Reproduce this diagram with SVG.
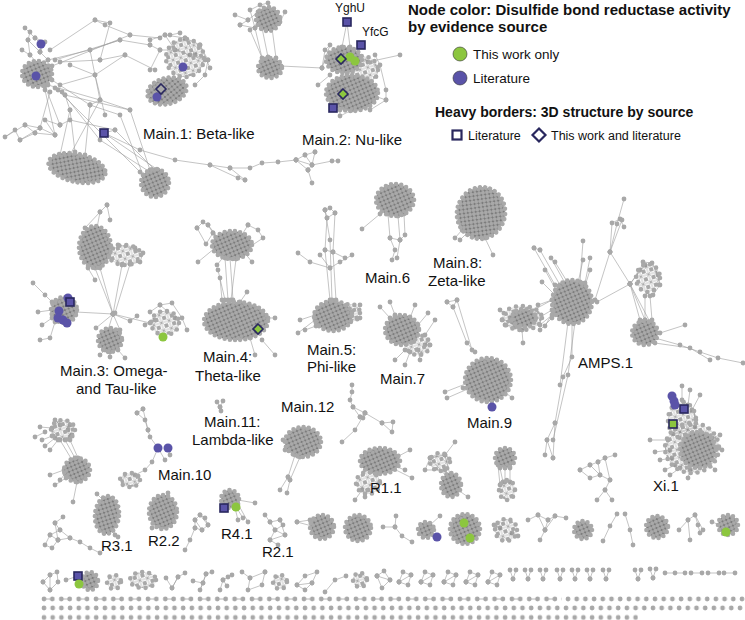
<svg xmlns="http://www.w3.org/2000/svg" width="745" height="620" viewBox="0 0 745 620">
<style>
.e{fill:none;stroke:#9c9c9c;stroke-width:0.6;marker-start:url(#n);marker-mid:url(#n);marker-end:url(#n)}
.b{fill:url(#dn);stroke:#a9a9a9;stroke-width:4.6;stroke-dasharray:0 5.2;stroke-linecap:round}
.lb{fill:url(#sp);stroke:#a9a9a9;stroke-width:4.6;stroke-dasharray:0 7;stroke-linecap:round}
.lit{fill:#5a53a8}
.tw{fill:#8cc63f}
.sq{stroke:#29275e;stroke-width:1.6}
.lab{font-family:"Liberation Sans",Arial,sans-serif;font-size:15px;fill:#111}
.sm{font-size:12px}
.hd{font-family:"Liberation Sans",Arial,sans-serif;font-weight:bold;fill:#111}
.lg{font-family:"Liberation Sans",Arial,sans-serif;fill:#111}
</style>
<defs>
<marker id="n" markerUnits="userSpaceOnUse" markerWidth="6" markerHeight="6" refX="3" refY="3" overflow="visible"><circle cx="3" cy="3" r="2.4" fill="#a8a8a8"/></marker>
<pattern id="dn" patternUnits="userSpaceOnUse" width="5.6" height="5.6" patternTransform="rotate(22)">
<rect width="5.6" height="5.6" fill="#8a8a8a"/>
<path d="M0 0L5.6 5.6M5.6 0L0 5.6M0 2.8H5.6M2.8 0V5.6" stroke="#555" stroke-width="0.7"/>
<g fill="#a9a9a9"><circle cx="0" cy="0" r="2"/><circle cx="5.6" cy="0" r="2"/><circle cx="0" cy="5.6" r="2"/><circle cx="5.6" cy="5.6" r="2"/><circle cx="2.8" cy="2.8" r="2"/></g>
</pattern>
<pattern id="sp" patternUnits="userSpaceOnUse" width="8" height="8" patternTransform="rotate(-17)">
<path d="M0 0L8 8M8 0L0 8M0 4H8M4 0V8" stroke="#8a8a8a" stroke-width="0.5"/>
<g fill="#a8a8a8"><circle cx="0" cy="0" r="2.2"/><circle cx="8" cy="0" r="2.2"/><circle cx="0" cy="8" r="2.2"/><circle cx="8" cy="8" r="2.2"/></g>
</pattern>
<pattern id="pr" patternUnits="userSpaceOnUse" x="41" y="595" width="17.33" height="8">
<path d="M3 4H11.3" stroke="#a8a8a8" stroke-width="0.8"/><g fill="#a8a8a8"><circle cx="3" cy="4" r="2.4"/><circle cx="11.3" cy="4" r="2.4"/></g>
</pattern>
<pattern id="s1" patternUnits="userSpaceOnUse" x="565" y="595" width="8.7" height="8"><circle cx="3" cy="4" r="2.4" fill="#a8a8a8"/></pattern>
<pattern id="s2" patternUnits="userSpaceOnUse" x="41" y="604" width="8.7" height="8"><circle cx="3" cy="4" r="2.4" fill="#a8a8a8"/></pattern>
<pattern id="s3" patternUnits="userSpaceOnUse" x="41" y="613.5" width="8.7" height="8"><circle cx="3" cy="4" r="2.4" fill="#a8a8a8"/></pattern>
</defs>
<rect width="745" height="620" fill="#fff"/>

<g id="connectors">
<!-- Main.1 -->
<path class="e" d="M25 28 L35 38 L41 44 L40 52 L48 60 M30 32 L28 40 L30 55 L38 64 M35 38 L45 42 L40 52 M28 40 L40 52 M22 50 L30 55"/>
<path class="e" d="M50 50 L95 20 L105 25 L130 35 L160 38 M48 60 L90 50 L120 40 L150 45 M60 62 L100 60 L125 55 L155 70 M70 65 L95 75 L105 115 M55 88 L65 95 L70 110 L75 152 M52 80 L90 105 L120 115 L143 175 M48 85 L100 100 L130 110 L150 170 M45 86 L60 125 M60 125 L70 120 L115 130 L104 133 M20 140 L15 130 L5 137 L25 125 L35 133 L55 135 L45 120 L60 125 M25 125 L40 128 L55 135 M35 133 L20 140 L40 128 M100 60 L110 23 L95 20 M90 50 L100 100 L90 105 M65 95 L130 110 M58 90 L140 172 M62 92 L100 140 L150 172 M70 110 L60 155 M90 105 L85 155 M100 100 L70 155 M115 130 L155 170 M104 133 L158 170 M55 60 L120 40 M52 66 L130 35 M60 85 L95 75 L125 55 M45 90 L55 135 M50 92 L40 128"/>
<path class="e" d="M104 133 L140 150 L175 160 L210 165 L230 168 L250 168 L262 163 L278 162 L296 160 M210 165 L238 178 L245 180 M230 168 L245 180 M296 160 L305 155 L315 152 M296 160 L308 170 M305 155 L312 165 L296 160 M312 165 L332 161 L338 161 M308 170 L312 165 L315 152 M308 170 L312 183"/>
<path class="e" d="M150 40 L165 35 L185 38 L200 45 L208 60 L205 75 L195 85 M165 35 L175 50 L190 55 L205 60 M160 50 L175 50 M150 45 L160 50 L150 70 M185 38 L195 55 L208 60 M200 45 L210 68 M170 35 L180 33"/>
<!-- Main.2 -->
<path class="e" d="M235 15 L248 20 L258 12 M240 25 L255 28 L250 10 L260 5 L268 3 M248 20 L240 25 M255 28 L262 58 M262 28 L268 57 M272 28 L276 58 M250 30 L263 60 M280 22 L285 12 M281 66 L322 68 M322 68 L330 45 L325 50 L322 68 M375 55 L380 65 L386 90 L386 100 L370 110 M368 62 L400 55 M372 95 L386 100 M340 110 L340 116 L352 110 M347 22 L342 47 M347 22 L350 47 M330 75 L318 85"/>
<!-- Main.3 -->
<path class="e" d="M107 205 L100 212 L85 228 M107 205 L110 220 M100 212 L97 228 M118 245 L135 248 L143 253 L140 262 L130 264 M95 268 L113 314 M100 268 L113 314 M122 265 L113 314 M130 264 L115 313 M88 268 L95 280 M33 283 L45 295 L52 302 M38 312 L52 310 M42 325 L52 318 M40 340 L50 338 L55 322 M76 312 L113 314 L96 328 M113 314 L150 323 M113 314 L130 321 L137 316 M113 314 L108 330 M113 314 L120 330 M100 355 L105 350 M110 357 L110 352 M125 358 L118 350 M150 312 L160 305 L172 303 L182 318 L187 330 M145 325 L155 320 M160 305 L175 318"/>
<!-- Main.4 -->
<path class="e" d="M197 228 L203 222 L208 225 L213 233 L206 244 L197 228 M208 225 L220 240 M213 233 L222 245 M198 262 L215 248 M217 265 L225 255 M248 225 L258 230 L263 238 L248 248 M248 225 L240 238 M252 262 L244 252 M225 258 L228 300 M230 258 L233 300 M236 259 L231 300 M218 270 L225 300 M220 278 L222 300 M247 292 L240 302 M268 318 L275 318 M262 340 L275 355 M255 355 L250 338"/>
<!-- Main.5 -->
<path class="e" d="M325 210 L330 240 L332 300 M335 213 L333 252 L336 300 M327 218 L325 250 L330 300 M325 210 L330 208 L335 213 L327 218 L325 210 M298 253 L310 262 L330 268 L340 262 L352 255 M320 255 L330 268 M325 250 L333 252 L345 258 M298 333 L315 320 M305 330 L316 326 M300 320 L315 315 M352 312 L360 305 M360 318 L350 320"/>
<!-- Main.6 -->
<path class="e" d="M362 229 L380 214 M388 214 L390 238 L395 250 L392 260 M398 216 L400 240 L397 258 M404 214 L405 235 L400 240 M390 238 L400 240"/>
<!-- Main.8 -->
<path class="e" d="M455 238 L462 230 M460 240 L468 232 M485 238 L493 255"/>
<!-- Main.7 -->
<path class="e" d="M380 307 L390 318 M390 302 L395 315 M415 305 L410 318 M428 313 L418 325 M435 320 L425 335 M420 360 L418 350 M395 360 L405 350 M405 365 L410 352 M430 345 L425 345"/>
<!-- Main.9 -->
<path class="e" d="M447 302 L457 300 L453 307 L467 343 L475 352 M447 302 L453 307 M457 300 L472 350 M445 392 L468 383 M447 398 L470 388 M463 388 L470 392 M512 398 L505 392"/>
<!-- AMPS.1 -->
<path class="e" d="M534 248 L555 285 M540 250 L560 285 M534 248 L540 250 M551 258 L565 283 M555 262 L568 283 M583 241 L580 282 M583 260 L578 283 M590 258 L585 283 M590 270 L585 286 M545 270 L556 290 M538 305 L552 300 M540 330 L552 318 M545 326 L553 312 M500 310 L510 318 M502 320 L512 322 M505 325 L515 327 M523 343 L522 330 M552 300 L530 312 M552 310 L535 320 M552 315 L540 325 M542 282 L555 295"/>
<path class="e" d="M595 300 L610 252 L617 224 L624 199 M610 252 L612 223 L620 219 L624 227 M610 252 L622 220 M610 252 L630 284 M597 302 L630 284 M630 284 L640 320 M630 284 L645 320 M630 284 L650 322 M630 284 L640 270 M630 284 L645 265 M643 262 L652 263 L658 275 L660 285 L653 295 M655 338 L680 345 L700 352 L718 358 L743 363 M660 333 L685 325 M655 343 L690 348 L710 360 M645 296 L645 320 M650 296 L652 320"/>
<path class="e" d="M572 322 L572 357 L563 377 L555 423 L547 440 L553 458 M575 322 L568 375 L553 440 M555 423 L553 458 M547 440 L545 455 M568 322 L560 385"/>
<!-- Xi.1 -->
<path class="e" d="M650 440 L668 440 M655 452 L670 450 M660 460 L672 458 M665 470 L675 465 M670 475 L680 468 M688 478 L690 470 M715 470 L708 462 M722 450 L714 450 M720 435 L712 438 M700 395 L692 410 M690 390 L688 405 M682 386 L682 400"/>
<!-- Main.12 / Main.11 / sprawl -->
<path class="e" d="M295 455 L288 477 L280 490 M300 457 L290 480 L287 493 M288 477 L290 480 M283 440 L287 442 M285 450 L288 448"/>
<path class="e" d="M217 402 L220 407 L223 401 M220 407 L221 411"/>
<path class="e" d="M352 385 L352 392 L350 400 L353 407 L365 413 L382 423 L393 422 L392 432 L382 423 M360 417 L365 413 L363 418 M365 413 L355 430 L342 442 M353 407 L360 417"/>
<!-- Main.10 -->
<path class="e" d="M137 413 L143 409 M137 413 L145 420 L148 430 L150 437 L158 448 M168 448 L170 455 M158 448 L152 462 L145 470 L135 475 M165 460 L158 448 M143 409 L148 430"/>
<!-- left cluster -->
<path class="e" d="M35 437 L45 432 M40 427 L52 428 M42 440 L52 436 M55 420 L60 425 M70 425 L68 430 M72 435 L70 437 M50 450 L58 440 M45 446 L55 438 M60 440 L72 460 M65 440 L75 458 M70 440 L78 458 M50 475 L64 470 M55 485 L66 478 M60 480 L65 474 M77 482 L73 502"/>
<!-- R clusters row -->
<path class="e" d="M97 494 L103 500 M115 535 L110 530 M118 537 L112 530"/>
<path class="e" d="M63 517 L55 523 L60 530 L50 535 L45 545 L52 548 L58 540 L70 538 L80 542 L90 548 L100 553 M55 523 L58 540 M60 530 L70 538 M50 535 L58 540"/>
<path class="e" d="M168 493 L166 498 M152 528 L155 522"/>
<path class="e" d="M195 520 L200 515 L205 518 L208 525 L202 530 L195 528 L195 520 L202 530 M200 515 L208 525 M195 528 L190 540 L185 550"/>
<path class="e" d="M255 503 L238 500 M243 518 L236 507 M248 522 L238 504 M238 520 L235 508"/>
<path class="e" d="M265 515 L270 522 L280 520 L283 525 L275 530 L285 535 L270 540 L278 545 M270 522 L275 530 L270 540 M280 520 L285 535"/>
<path class="e" d="M410 450 L395 458 M405 470 L392 465 M412 478 L392 468 M355 500 L362 490 M365 497 L368 490"/>
<path class="e" d="M455 442 L445 455 L430 458 L425 470 L445 470 M445 455 L450 475 M430 458 L448 478 M468 497 L458 490"/>
<path class="e" d="M505 468 L505 482 M500 468 L503 482 M510 468 L510 482 M498 465 L500 485"/>
<path class="e" d="M580 470 L590 465 L598 462 L605 458 L615 455 M590 465 L600 475 L610 480 L605 490 L597 500 M605 490 L612 500 M598 462 L600 475 L590 478 L580 470 M605 458 L610 480"/>
<path class="e" d="M297 522 L312 526 M297 522 L310 520"/>
<path class="e" d="M383 527 L395 527 L396 516 M395 527 L402 536 L412 542"/>
<path class="e" d="M440 516 L430 525"/>
<path class="e" d="M494 525 L500 528 M518 536 L512 533"/>
<path class="e" d="M528 520 L538 515 L548 520 L555 516 L566 518 M538 515 L545 530 L555 516 M545 530 L540 540 M548 520 L545 530"/>
<path class="e" d="M603 541 L610 526 L617 514"/>
<path class="e" d="M625 514 L630 530 L633 545"/>
<path class="e" d="M679 530 L688 520 L695 515 L698 525 L700 533 M688 520 L690 540 M695 515 L703 530"/>
<path class="e" d="M712 522 L720 525"/>
<!-- row of small clusters -->
<path class="e" d="M43 582 L50 575 L57 572 L58 582 L50 590 L43 582 M50 575 L50 590"/>
<path class="e" d="M66 580 L78 576"/>
<path class="e" d="M166 578 L172 588 L178 577 L185 573 M172 588 L178 577"/>
<path class="e" d="M193 581 L203 583 L206 574 L212 572 M203 583 L200 590 L206 574"/>
<path class="e" d="M220 590 L223 580 L228 577 L232 575 M223 580 L227 586"/>
<path class="e" d="M242 572 L250 578 L265 572 M250 578 L248 590 L262 585 L265 572"/>
<path class="e" d="M297 585 L305 576 L317 572 L312 583 L305 590 L297 585 L312 583"/>
<path class="e" d="M325 592 L335 580 L346 576"/>
<path class="e" d="M377 576 L384 571 L390 580 L382 588 Z M377 576 L390 580"/>
<path class="e" d="M399 582 L403 572 L411 575 L408 585 Z M399 582 L411 575"/>
<path class="e" d="M421 582 L425 572 L433 575 L430 585 Z M421 582 L433 575"/>
<path class="e" d="M444 582 L448 572 L456 575 L453 585 Z M444 582 L456 575"/>
<path class="e" d="M466 582 L470 572 L478 575 L475 585 Z M466 582 L478 575"/>
<path class="e" d="M488 582 L492 572 L500 575 L497 585 Z M488 582 L500 575"/>
<path class="e" d="M510 570 L513 579 M516 570 L513 579"/>
<path class="e" d="M525 570 L528 579 M531 570 L528 579"/>
<path class="e" d="M540 570 L543 579 M546 570 L543 579"/>
<path class="e" d="M557 570 L560 579 M563 570 L560 579"/>
<path class="e" d="M572 570 L575 579 M578 570 L575 579"/>
<path class="e" d="M587 570 L590 579 M593 570 L590 579"/>
<path class="e" d="M603 570 L606 579 M609 570 L606 579"/>
<path class="e" d="M635 570 L638 579 M641 570 L638 579"/>
<path class="e" d="M650 569 L653 578 M656 569 L653 578"/>
<path class="e" d="M665 573 L675 573 L685 573"/>
<path class="e" d="M691 573 L702 573"/>
<path class="e" d="M708 573 L719 573"/>
<path class="e" d="M724 573 L735 573"/>
</g>

<g id="main1">
<ellipse class="b" cx="37" cy="74" rx="15" ry="13"/>
<ellipse class="lb" cx="185" cy="58" rx="19" ry="19"/>
<ellipse class="b" cx="167" cy="91" rx="20" ry="13" transform="rotate(-15 167 91)"/>
<ellipse class="b" cx="77" cy="168" rx="29" ry="14" transform="rotate(12 77 168)"/>
<circle class="b" cx="155" cy="183" r="14"/>
<circle class="lit" cx="41" cy="44" r="4.5"/>
<circle class="lit" cx="36" cy="76" r="4.5"/>
<circle class="lit" cx="183" cy="67" r="4.5"/>
<circle class="lit" cx="157" cy="97" r="4.5"/>
<path class="sq" d="M161 84 L166 89 L161 94 L156 89 Z" fill="#a8a8a8"/>
<rect class="sq lit" x="100" y="129" width="8" height="8"/>
</g>

<g id="main2">
<ellipse class="b" cx="268" cy="19" rx="12" ry="12"/>
<ellipse class="b" cx="270" cy="68" rx="12" ry="10"/>
<ellipse class="lb" cx="362" cy="70" rx="16" ry="14"/>
<ellipse class="b" cx="344" cy="60" rx="18" ry="13"/>
<ellipse class="b" cx="352" cy="93" rx="26" ry="18"/>
<rect class="sq lit" x="343" y="18" width="8" height="8"/>
<rect class="sq lit" x="357" y="41" width="8" height="8"/>
<circle class="tw" cx="350" cy="57" r="4.5"/>
<circle class="tw" cx="355" cy="61" r="4.5"/>
<path class="sq tw" d="M341 54 L346 59 L341 64 L336 59 Z"/>
<path class="sq tw" d="M343 89 L348 94 L343 99 L338 94 Z"/>
<rect class="sq lit" x="329" y="104" width="8" height="8"/>
</g>

<g id="main3">
<ellipse class="lb" cx="125" cy="255" rx="16" ry="10"/>
<ellipse class="b" cx="95" cy="247" rx="16" ry="21"/>
<circle class="b" cx="64" cy="310" r="13"/>
<circle class="b" cx="110" cy="340" r="12"/>
<ellipse class="lb" cx="165" cy="323" rx="14" ry="12"/>
<circle class="lit" cx="59" cy="311" r="4.5"/>
<circle class="lit" cx="58" cy="318" r="4.5"/>
<circle class="lit" cx="63" cy="320" r="4.5"/>
<circle class="lit" cx="67" cy="323" r="4.5"/>
<circle class="lit" cx="68" cy="298" r="4.5"/>
<rect class="sq lit" x="66" y="298" width="8" height="8"/>
<circle class="tw" cx="163" cy="337" r="4.5"/>
</g>

<g id="main4">
<ellipse class="b" cx="232" cy="245" rx="20" ry="14"/>
<ellipse class="b" cx="236" cy="321" rx="32" ry="19"/>
<path class="sq tw" d="M258 324 L263 329 L258 334 L253 329 Z"/>
</g>

<g id="main5">
<ellipse class="lb" cx="350" cy="313" rx="10" ry="9"/>
<ellipse class="b" cx="333" cy="316" rx="19" ry="15"/>
</g>
<g id="main6"><ellipse class="b" cx="395" cy="200" rx="19" ry="16"/></g>
<g id="main8"><ellipse class="b" cx="481" cy="213" rx="24" ry="26" transform="rotate(15 481 213)"/></g>
<g id="main7">
<ellipse class="lb" cx="418" cy="345" rx="12" ry="10"/>
<ellipse class="b" cx="402" cy="330" rx="17" ry="15"/>
</g>
<g id="main9">
<ellipse class="b" cx="488" cy="380" rx="23" ry="22"/>
<circle class="lit" cx="492" cy="407" r="4.5"/>
</g>
<g id="amps1">
<ellipse class="lb" cx="522" cy="318" rx="20" ry="12"/>
<ellipse class="b" cx="524" cy="318" rx="12" ry="9"/>
<ellipse class="b" cx="572" cy="302" rx="20" ry="22"/>
<ellipse class="lb" cx="648" cy="278" rx="12" ry="14"/>
<ellipse class="b" cx="645" cy="333" rx="13" ry="12"/>
</g>
<g id="xi1">
<ellipse class="lb" cx="682" cy="420" rx="14" ry="18"/>
<ellipse class="lb" cx="692" cy="448" rx="27" ry="25"/>
<ellipse class="b" cx="698" cy="450" rx="18" ry="18"/>
<circle class="lit" cx="672" cy="396" r="4.5"/>
<circle class="lit" cx="674" cy="401" r="4.5"/>
<circle class="lit" cx="675" cy="405" r="4.5"/>
<rect class="sq lit" x="680" y="405" width="8" height="8"/>
<rect class="sq tw" x="669" y="420" width="8" height="8"/>
</g>
<g id="main12"><ellipse class="b" cx="303" cy="442" rx="18" ry="15"/></g>
<g id="main10">
<ellipse class="lb" cx="130" cy="480" rx="10" ry="7"/>
<circle class="lit" cx="158" cy="448" r="4.5"/>
<circle class="lit" cx="168" cy="448" r="4.5"/>
</g>
<g id="left1">
<ellipse class="lb" cx="63" cy="430" rx="12" ry="10"/>
<ellipse class="b" cx="77" cy="470" rx="13" ry="12"/>
</g>
<g id="r31"><ellipse class="b" cx="107" cy="515" rx="12" ry="19" transform="rotate(5 107 515)"/></g>
<g id="r22"><ellipse class="b" cx="163" cy="512" rx="14" ry="17"/></g>
<g id="r41">
<circle class="b" cx="230" cy="499" r="9"/>
<rect class="sq lit" x="220" y="504" width="8" height="8"/>
<circle class="tw" cx="236" cy="507" r="4.5"/>
</g>
<g id="r11">
<ellipse class="lb" cx="368" cy="483" rx="12" ry="11"/>
<ellipse class="b" cx="380" cy="461" rx="20" ry="13"/>
</g>
<g id="smallclusters">
<ellipse class="lb" cx="440" cy="462" rx="10" ry="9"/>
<ellipse class="b" cx="451" cy="485" rx="10" ry="12"/>
<circle class="b" cx="505" cy="458" r="10"/>
<ellipse class="lb" cx="507" cy="490" rx="8" ry="10"/>
<circle class="b" cx="322" cy="527" r="12"/>
<circle class="b" cx="358" cy="528" r="13"/>
<circle class="b" cx="426" cy="530" r="8"/>
<circle class="lit" cx="437" cy="537" r="4.5"/>
<circle class="b" cx="465" cy="529" r="15"/>
<circle class="tw" cx="464" cy="523" r="4.5"/>
<circle class="tw" cx="470" cy="538" r="4.5"/>
<circle class="lb" cx="506" cy="530" r="11"/>
<circle class="b" cx="583" cy="530" r="9"/>
<circle class="b" cx="657" cy="527" r="11"/>
<circle class="b" cx="728" cy="525" r="10"/>
<circle class="tw" cx="726" cy="532" r="4.5"/>
<ellipse class="b" cx="90" cy="581" rx="8" ry="9"/>
<rect class="sq lit" x="74" y="572" width="8" height="8"/>
<circle class="tw" cx="79" cy="584" r="4.5"/>
<circle class="lb" cx="114" cy="582" r="7"/>
<ellipse class="lb" cx="143" cy="580" rx="13" ry="8"/>
<circle class="lb" cx="280" cy="582" r="7"/>
<circle class="lb" cx="360" cy="580" r="7"/>
</g>
<g id="singletons">
<rect x="41" y="595" width="521" height="8" fill="url(#pr)"/>
<rect x="565" y="595" width="180" height="8" fill="url(#s1)"/>
<rect x="41" y="604" width="704" height="8" fill="url(#s2)"/>
<rect x="41" y="613.5" width="597" height="8" fill="url(#s3)"/>
</g>

<g id="labels" class="lab">
<text x="143" y="139">Main.1: Beta-like</text>
<text x="302" y="145">Main.2: Nu-like</text>
<text x="335" y="12" class="sm">YghU</text>
<text x="362" y="36" class="sm">YfcG</text>
<text x="60" y="376">Main.3: Omega-</text>
<text x="76" y="394">and Tau-like</text>
<text x="203" y="362">Main.4:</text>
<text x="195" y="381">Theta-like</text>
<text x="307" y="355">Main.5:</text>
<text x="307" y="372">Phi-like</text>
<text x="365" y="283">Main.6</text>
<text x="433" y="268">Main.8:</text>
<text x="428" y="286">Zeta-like</text>
<text x="380" y="384">Main.7</text>
<text x="467" y="428">Main.9</text>
<text x="578" y="368">AMPS.1</text>
<text x="653" y="491">Xi.1</text>
<text x="204" y="427">Main.11:</text>
<text x="192" y="445">Lambda-like</text>
<text x="281" y="412">Main.12</text>
<text x="158" y="480">Main.10</text>
<text x="370" y="493">R1.1</text>
<text x="101" y="551">R3.1</text>
<text x="148" y="546">R2.2</text>
<text x="221" y="539">R4.1</text>
<text x="262" y="557">R2.1</text>
</g>

<g id="legend">
<text class="hd" x="408" y="15" font-size="15">Node color: Disulfide bond reductase activity</text>
<text class="hd" x="408" y="32" font-size="15">by evidence source</text>
<circle cx="460" cy="54" r="7" fill="#8cc63f" stroke="#333" stroke-width="0.6"/>
<text class="lg" x="473" y="59" font-size="13.5">This work only</text>
<circle cx="460" cy="78" r="7" fill="#5a53a8" stroke="#333" stroke-width="0.6"/>
<text class="lg" x="473" y="83" font-size="13.5">Literature</text>
<text class="hd" x="435" y="117" font-size="14">Heavy borders: 3D structure by source</text>
<rect x="452.5" y="130.5" width="9" height="9" fill="#fff" stroke="#29275e" stroke-width="2.2"/>
<text class="lg" x="468" y="140" font-size="12.5">Literature</text>
<path d="M539 128.5 L545.5 135 L539 141.5 L532.5 135 Z" fill="#fff" stroke="#29275e" stroke-width="2.2"/>
<text class="lg" x="551" y="140" font-size="12.5">This work and literature</text>
</g>
</svg>
